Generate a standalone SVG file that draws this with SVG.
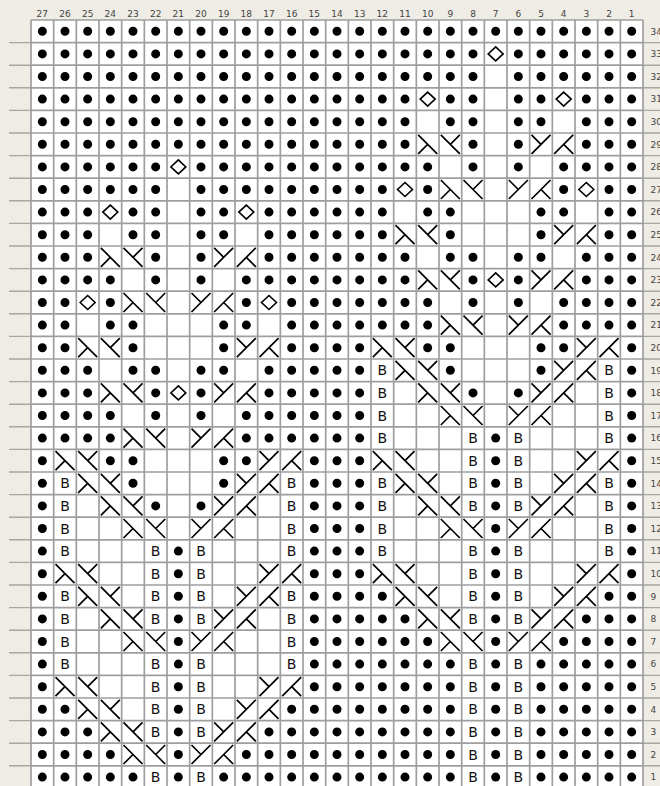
<svg xmlns="http://www.w3.org/2000/svg" width="660" height="786" viewBox="0 0 660 786">
<style>
.hd{fill:#eeece5}
.grid{fill:none;stroke:#9e9e9e;stroke-width:1.7}
.sep{fill:none;stroke:#a6a6a2;stroke-width:1.4}
.lbl{font-family:"DejaVu Sans",Verdana,sans-serif;font-size:9px;fill:#444}
.cl{text-anchor:middle}
.dt{fill:none;stroke:#000;stroke-width:9;stroke-linecap:round;stroke-dasharray:0.01 22.657}
.cb{fill:none;stroke:#000;stroke-width:1.7}
.dm{fill:#fff;stroke:#000;stroke-width:1.6}
.bt{font-family:"DejaVu Sans",sans-serif;font-size:14px;fill:#111;text-anchor:middle}
</style>
<defs>
<path id="a" class="cb" d="M-9.5 -9.5L9.5 9.5M0 0L-9.5 9.5"/>
<path id="b" class="cb" d="M-9.5 -9.5L9.5 9.5M0 0L9.5 -9.5"/>
<path id="c" class="cb" d="M9.5 -9.5L-9.5 9.5M0 0L-9.5 -9.5"/>
<path id="d" class="cb" d="M9.5 -9.5L-9.5 9.5M0 0L9.5 9.5"/>
<path id="o" class="dm" d="M0 -7L7.5 0L0 7L-7.5 0Z"/>
</defs>
<g id="background">
<rect class="hd" x="0" y="0" width="660" height="786"/>
<rect x="31" y="20" width="612" height="766" fill="#fff"/>
<path class="sep" d="M9 42.6H31m-22 22.6H31m-22 22.6H31m-22 22.6H31m-22 22.6H31m-22 22.6H31m-22 22.6H31m-22 22.6H31m-22 22.6H31m-22 22.6H31m-22 22.6H31m-22 22.6H31m-22 22.6H31m-22 22.6H31m-22 22.6H31m-22 22.6H31m-22 22.6H31m-22 22.6H31m-22 22.6H31m-22 22.6H31m-22 22.6H31m-22 22.6H31m-22 22.6H31m-22 22.6H31m-22 22.6H31m-22 22.6H31m-22 22.6H31m-22 22.6H31m-22 22.6H31m-22 22.6H31m-22 22.6H31m-22 22.6H31m-22 22.6H31"/>
<path class="sep" d="M643 42.6H660m-17 22.6H660m-17 22.6H660m-17 22.6H660m-17 22.6H660m-17 22.6H660m-17 22.6H660m-17 22.6H660m-17 22.6H660m-17 22.6H660m-17 22.6H660m-17 22.6H660m-17 22.6H660m-17 22.6H660m-17 22.6H660m-17 22.6H660m-17 22.6H660m-17 22.6H660m-17 22.6H660m-17 22.6H660m-17 22.6H660m-17 22.6H660m-17 22.6H660m-17 22.6H660m-17 22.6H660m-17 22.6H660m-17 22.6H660m-17 22.6H660m-17 22.6H660m-17 22.6H660m-17 22.6H660m-17 22.6H660m-17 22.6H660"/>
</g>
<g id="column-labels" class="lbl cl">
<text x="42.33" y="16.5">27</text><text x="65" y="16.5">26</text><text x="87.67" y="16.5">25</text><text x="110.33" y="16.5">24</text><text x="133" y="16.5">23</text><text x="155.67" y="16.5">22</text><text x="178.33" y="16.5">21</text><text x="201" y="16.5">20</text><text x="223.67" y="16.5">19</text><text x="246.33" y="16.5">18</text><text x="269" y="16.5">17</text><text x="291.67" y="16.5">16</text><text x="314.33" y="16.5">15</text><text x="337" y="16.5">14</text><text x="359.67" y="16.5">13</text><text x="382.33" y="16.5">12</text><text x="405" y="16.5">11</text><text x="427.67" y="16.5">10</text><text x="450.33" y="16.5">9</text><text x="473" y="16.5">8</text><text x="495.67" y="16.5">7</text><text x="518.33" y="16.5">6</text><text x="541" y="16.5">5</text><text x="563.67" y="16.5">4</text><text x="586.33" y="16.5">3</text><text x="609" y="16.5">2</text><text x="631.67" y="16.5">1</text>
</g>
<g id="row-labels" class="lbl">
<text x="650.5" y="34.6">34</text><text x="650.5" y="57.2">33</text><text x="650.5" y="79.8">32</text><text x="650.5" y="102.4">31</text><text x="650.5" y="125">30</text><text x="650.5" y="147.6">29</text><text x="650.5" y="170.2">28</text><text x="650.5" y="192.8">27</text><text x="650.5" y="215.4">26</text><text x="650.5" y="238">25</text><text x="650.5" y="260.6">24</text><text x="650.5" y="283.2">23</text><text x="650.5" y="305.8">22</text><text x="650.5" y="328.4">21</text><text x="650.5" y="351">20</text><text x="650.5" y="373.6">19</text><text x="650.5" y="396.2">18</text><text x="650.5" y="418.8">17</text><text x="650.5" y="441.4">16</text><text x="650.5" y="464">15</text><text x="650.5" y="486.6">14</text><text x="650.5" y="509.2">13</text><text x="650.5" y="531.8">12</text><text x="650.5" y="554.4">11</text><text x="650.5" y="577">10</text><text x="650.5" y="599.6">9</text><text x="650.5" y="622.2">8</text><text x="650.5" y="644.8">7</text><text x="650.5" y="667.4">6</text><text x="650.5" y="690">5</text><text x="650.5" y="712.6">4</text><text x="650.5" y="735.2">3</text><text x="650.5" y="757.8">2</text><text x="650.5" y="780.4">1</text>
</g>
<g id="purl-dots" class="dt">
<path d="M42.33 31.3H632.17"/>
<path d="M42.33 53.9H473.5"/><path d="M518.33 53.9H632.17"/>
<path d="M42.33 76.5H473.5"/><path d="M518.33 76.5H632.17"/>
<path d="M42.33 99.1H405.5"/><path d="M450.33 99.1H473.5"/><path d="M518.33 99.1H541.5"/><path d="M586.33 99.1H632.17"/>
<path d="M42.33 121.7H405.5"/><path d="M450.33 121.7H473.5"/><path d="M518.33 121.7H541.5"/><path d="M586.33 121.7H632.17"/>
<path d="M42.33 144.3H405.5"/><path d="M473 144.3h0.5"/><path d="M518.33 144.3h0.5"/><path d="M586.33 144.3H632.17"/>
<path d="M42.33 166.9H156.17"/><path d="M201 166.9H428.17"/><path d="M473 166.9h0.5"/><path d="M518.33 166.9h0.5"/><path d="M563.67 166.9H632.17"/>
<path d="M42.33 189.5H156.17"/><path d="M201 189.5H382.83"/><path d="M427.67 189.5h0.5"/><path d="M563.67 189.5h0.5"/><path d="M609 189.5H632.17"/>
<path d="M42.33 212.1H88.17"/><path d="M133 212.1H156.17"/><path d="M201 212.1H224.17"/><path d="M269 212.1H382.83"/><path d="M427.67 212.1H450.83"/><path d="M541 212.1H564.17"/><path d="M609 212.1H632.17"/>
<path d="M42.33 234.7H88.17"/><path d="M133 234.7H156.17"/><path d="M201 234.7H224.17"/><path d="M269 234.7H382.83"/><path d="M450.33 234.7h0.5"/><path d="M541 234.7h0.5"/><path d="M609 234.7H632.17"/>
<path d="M42.33 257.3H88.17"/><path d="M155.67 257.3h0.5"/><path d="M201 257.3h0.5"/><path d="M269 257.3H405.5"/><path d="M450.33 257.3H473.5"/><path d="M518.33 257.3H541.5"/><path d="M586.33 257.3H632.17"/>
<path d="M42.33 279.9H110.83"/><path d="M155.67 279.9h0.5"/><path d="M201 279.9h0.5"/><path d="M246.33 279.9H405.5"/><path d="M473 279.9h0.5"/><path d="M518.33 279.9h0.5"/><path d="M586.33 279.9H632.17"/>
<path d="M42.33 302.5H65.5"/><path d="M110.33 302.5h0.5"/><path d="M246.33 302.5h0.5"/><path d="M291.67 302.5H428.17"/><path d="M473 302.5h0.5"/><path d="M518.33 302.5h0.5"/><path d="M563.67 302.5H632.17"/>
<path d="M42.33 325.1H65.5"/><path d="M110.33 325.1H133.5"/><path d="M223.67 325.1H246.83"/><path d="M291.67 325.1H428.17"/><path d="M563.67 325.1H632.17"/>
<path d="M42.33 347.7H65.5"/><path d="M133 347.7h0.5"/><path d="M223.67 347.7h0.5"/><path d="M291.67 347.7H360.17"/><path d="M427.67 347.7H450.83"/><path d="M541 347.7H564.17"/><path d="M631.67 347.7h0.5"/>
<path d="M42.33 370.3H88.17"/><path d="M133 370.3H156.17"/><path d="M201 370.3H224.17"/><path d="M269 370.3H360.17"/><path d="M450.33 370.3h0.5"/><path d="M541 370.3h0.5"/><path d="M631.67 370.3h0.5"/>
<path d="M42.33 392.9H88.17"/><path d="M155.67 392.9h0.5"/><path d="M201 392.9h0.5"/><path d="M269 392.9H360.17"/><path d="M473 392.9h0.5"/><path d="M518.33 392.9h0.5"/><path d="M631.67 392.9h0.5"/>
<path d="M42.33 415.5H110.83"/><path d="M155.67 415.5h0.5"/><path d="M201 415.5h0.5"/><path d="M246.33 415.5H360.17"/><path d="M631.67 415.5h0.5"/>
<path d="M42.33 438.1H110.83"/><path d="M246.33 438.1H360.17"/><path d="M495.67 438.1h0.5"/><path d="M631.67 438.1h0.5"/>
<path d="M42.33 460.7h0.5"/><path d="M110.33 460.7H133.5"/><path d="M223.67 460.7H246.83"/><path d="M314.33 460.7H360.17"/><path d="M495.67 460.7h0.5"/><path d="M631.67 460.7h0.5"/>
<path d="M42.33 483.3h0.5"/><path d="M133 483.3h0.5"/><path d="M223.67 483.3h0.5"/><path d="M314.33 483.3H360.17"/><path d="M495.67 483.3h0.5"/><path d="M631.67 483.3h0.5"/>
<path d="M42.33 505.9h0.5"/><path d="M155.67 505.9h0.5"/><path d="M201 505.9h0.5"/><path d="M314.33 505.9H360.17"/><path d="M495.67 505.9h0.5"/><path d="M631.67 505.9h0.5"/>
<path d="M42.33 528.5h0.5"/><path d="M314.33 528.5H360.17"/><path d="M495.67 528.5h0.5"/><path d="M631.67 528.5h0.5"/>
<path d="M42.33 551.1h0.5"/><path d="M178.33 551.1h0.5"/><path d="M314.33 551.1H360.17"/><path d="M495.67 551.1h0.5"/><path d="M631.67 551.1h0.5"/>
<path d="M42.33 573.7h0.5"/><path d="M178.33 573.7h0.5"/><path d="M314.33 573.7H360.17"/><path d="M495.67 573.7h0.5"/><path d="M631.67 573.7h0.5"/>
<path d="M42.33 596.3h0.5"/><path d="M178.33 596.3h0.5"/><path d="M314.33 596.3H382.83"/><path d="M495.67 596.3h0.5"/><path d="M609 596.3H632.17"/>
<path d="M42.33 618.9h0.5"/><path d="M178.33 618.9h0.5"/><path d="M314.33 618.9H405.5"/><path d="M495.67 618.9h0.5"/><path d="M586.33 618.9H632.17"/>
<path d="M42.33 641.5h0.5"/><path d="M178.33 641.5h0.5"/><path d="M314.33 641.5H428.17"/><path d="M495.67 641.5h0.5"/><path d="M563.67 641.5H632.17"/>
<path d="M42.33 664.1h0.5"/><path d="M178.33 664.1h0.5"/><path d="M314.33 664.1H450.83"/><path d="M495.67 664.1h0.5"/><path d="M541 664.1H632.17"/>
<path d="M42.33 686.7h0.5"/><path d="M178.33 686.7h0.5"/><path d="M314.33 686.7H450.83"/><path d="M495.67 686.7h0.5"/><path d="M541 686.7H632.17"/>
<path d="M42.33 709.3H65.5"/><path d="M178.33 709.3h0.5"/><path d="M291.67 709.3H450.83"/><path d="M495.67 709.3h0.5"/><path d="M541 709.3H632.17"/>
<path d="M42.33 731.9H88.17"/><path d="M178.33 731.9h0.5"/><path d="M269 731.9H450.83"/><path d="M495.67 731.9h0.5"/><path d="M541 731.9H632.17"/>
<path d="M42.33 754.5H110.83"/><path d="M178.33 754.5h0.5"/><path d="M246.33 754.5H450.83"/><path d="M495.67 754.5h0.5"/><path d="M541 754.5H632.17"/>
<path d="M42.33 777.1H133.5"/><path d="M178.33 777.1h0.5"/><path d="M223.67 777.1H450.83"/><path d="M495.67 777.1h0.5"/><path d="M541 777.1H632.17"/>
</g>
<g id="bobbles">
<use href="#o" x="495.67" y="53.9"/>
<use href="#o" x="427.67" y="99.1"/><use href="#o" x="563.67" y="99.1"/>
<use href="#o" x="178.33" y="166.9"/>
<use href="#o" x="405" y="189.5"/><use href="#o" x="586.33" y="189.5"/>
<use href="#o" x="110.33" y="212.1"/><use href="#o" x="246.33" y="212.1"/>
<use href="#o" x="495.67" y="279.9"/>
<use href="#o" x="87.67" y="302.5"/><use href="#o" x="269" y="302.5"/>
<use href="#o" x="178.33" y="392.9"/>
</g>
<g id="cables">
<use href="#a" x="427.67" y="144.3"/><use href="#b" x="450.33" y="144.3"/><use href="#c" x="541" y="144.3"/><use href="#d" x="563.67" y="144.3"/>
<use href="#a" x="450.33" y="189.5"/><use href="#b" x="473" y="189.5"/><use href="#c" x="518.33" y="189.5"/><use href="#d" x="541" y="189.5"/>
<use href="#a" x="405" y="234.7"/><use href="#b" x="427.67" y="234.7"/><use href="#c" x="563.67" y="234.7"/><use href="#d" x="586.33" y="234.7"/>
<use href="#a" x="110.33" y="257.3"/><use href="#b" x="133" y="257.3"/><use href="#c" x="223.67" y="257.3"/><use href="#d" x="246.33" y="257.3"/>
<use href="#a" x="427.67" y="279.9"/><use href="#b" x="450.33" y="279.9"/><use href="#c" x="541" y="279.9"/><use href="#d" x="563.67" y="279.9"/>
<use href="#a" x="133" y="302.5"/><use href="#b" x="155.67" y="302.5"/><use href="#c" x="201" y="302.5"/><use href="#d" x="223.67" y="302.5"/>
<use href="#a" x="450.33" y="325.1"/><use href="#b" x="473" y="325.1"/><use href="#c" x="518.33" y="325.1"/><use href="#d" x="541" y="325.1"/>
<use href="#a" x="87.67" y="347.7"/><use href="#b" x="110.33" y="347.7"/><use href="#c" x="246.33" y="347.7"/><use href="#d" x="269" y="347.7"/><use href="#a" x="382.33" y="347.7"/><use href="#b" x="405" y="347.7"/><use href="#c" x="586.33" y="347.7"/><use href="#d" x="609" y="347.7"/>
<use href="#a" x="405" y="370.3"/><use href="#b" x="427.67" y="370.3"/><use href="#c" x="563.67" y="370.3"/><use href="#d" x="586.33" y="370.3"/>
<use href="#a" x="110.33" y="392.9"/><use href="#b" x="133" y="392.9"/><use href="#c" x="223.67" y="392.9"/><use href="#d" x="246.33" y="392.9"/><use href="#a" x="427.67" y="392.9"/><use href="#b" x="450.33" y="392.9"/><use href="#c" x="541" y="392.9"/><use href="#d" x="563.67" y="392.9"/>
<use href="#a" x="450.33" y="415.5"/><use href="#b" x="473" y="415.5"/><use href="#c" x="518.33" y="415.5"/><use href="#d" x="541" y="415.5"/>
<use href="#a" x="133" y="438.1"/><use href="#b" x="155.67" y="438.1"/><use href="#c" x="201" y="438.1"/><use href="#d" x="223.67" y="438.1"/>
<use href="#a" x="65" y="460.7"/><use href="#b" x="87.67" y="460.7"/><use href="#c" x="269" y="460.7"/><use href="#d" x="291.67" y="460.7"/><use href="#a" x="382.33" y="460.7"/><use href="#b" x="405" y="460.7"/><use href="#c" x="586.33" y="460.7"/><use href="#d" x="609" y="460.7"/>
<use href="#a" x="87.67" y="483.3"/><use href="#b" x="110.33" y="483.3"/><use href="#c" x="246.33" y="483.3"/><use href="#d" x="269" y="483.3"/><use href="#a" x="405" y="483.3"/><use href="#b" x="427.67" y="483.3"/><use href="#c" x="563.67" y="483.3"/><use href="#d" x="586.33" y="483.3"/>
<use href="#a" x="110.33" y="505.9"/><use href="#b" x="133" y="505.9"/><use href="#c" x="223.67" y="505.9"/><use href="#d" x="246.33" y="505.9"/><use href="#a" x="427.67" y="505.9"/><use href="#b" x="450.33" y="505.9"/><use href="#c" x="541" y="505.9"/><use href="#d" x="563.67" y="505.9"/>
<use href="#a" x="133" y="528.5"/><use href="#b" x="155.67" y="528.5"/><use href="#c" x="201" y="528.5"/><use href="#d" x="223.67" y="528.5"/><use href="#a" x="450.33" y="528.5"/><use href="#b" x="473" y="528.5"/><use href="#c" x="518.33" y="528.5"/><use href="#d" x="541" y="528.5"/>
<use href="#a" x="65" y="573.7"/><use href="#b" x="87.67" y="573.7"/><use href="#c" x="269" y="573.7"/><use href="#d" x="291.67" y="573.7"/><use href="#a" x="382.33" y="573.7"/><use href="#b" x="405" y="573.7"/><use href="#c" x="586.33" y="573.7"/><use href="#d" x="609" y="573.7"/>
<use href="#a" x="87.67" y="596.3"/><use href="#b" x="110.33" y="596.3"/><use href="#c" x="246.33" y="596.3"/><use href="#d" x="269" y="596.3"/><use href="#a" x="405" y="596.3"/><use href="#b" x="427.67" y="596.3"/><use href="#c" x="563.67" y="596.3"/><use href="#d" x="586.33" y="596.3"/>
<use href="#a" x="110.33" y="618.9"/><use href="#b" x="133" y="618.9"/><use href="#c" x="223.67" y="618.9"/><use href="#d" x="246.33" y="618.9"/><use href="#a" x="427.67" y="618.9"/><use href="#b" x="450.33" y="618.9"/><use href="#c" x="541" y="618.9"/><use href="#d" x="563.67" y="618.9"/>
<use href="#a" x="133" y="641.5"/><use href="#b" x="155.67" y="641.5"/><use href="#c" x="201" y="641.5"/><use href="#d" x="223.67" y="641.5"/><use href="#a" x="450.33" y="641.5"/><use href="#b" x="473" y="641.5"/><use href="#c" x="518.33" y="641.5"/><use href="#d" x="541" y="641.5"/>
<use href="#a" x="65" y="686.7"/><use href="#b" x="87.67" y="686.7"/><use href="#c" x="269" y="686.7"/><use href="#d" x="291.67" y="686.7"/>
<use href="#a" x="87.67" y="709.3"/><use href="#b" x="110.33" y="709.3"/><use href="#c" x="246.33" y="709.3"/><use href="#d" x="269" y="709.3"/>
<use href="#a" x="110.33" y="731.9"/><use href="#b" x="133" y="731.9"/><use href="#c" x="223.67" y="731.9"/><use href="#d" x="246.33" y="731.9"/>
<use href="#a" x="133" y="754.5"/><use href="#b" x="155.67" y="754.5"/><use href="#c" x="201" y="754.5"/><use href="#d" x="223.67" y="754.5"/>
</g>
<g id="twisted-stitches" class="bt">
<text x="382.33" y="375.4">B</text><text x="609" y="375.4">B</text>
<text x="382.33" y="398">B</text><text x="609" y="398">B</text>
<text x="382.33" y="420.6">B</text><text x="609" y="420.6">B</text>
<text x="382.33" y="443.2">B</text><text x="473" y="443.2">B</text><text x="518.33" y="443.2">B</text><text x="609" y="443.2">B</text>
<text x="473" y="465.8">B</text><text x="518.33" y="465.8">B</text>
<text x="65" y="488.4">B</text><text x="291.67" y="488.4">B</text><text x="382.33" y="488.4">B</text><text x="473" y="488.4">B</text><text x="518.33" y="488.4">B</text><text x="609" y="488.4">B</text>
<text x="65" y="511">B</text><text x="291.67" y="511">B</text><text x="382.33" y="511">B</text><text x="473" y="511">B</text><text x="518.33" y="511">B</text><text x="609" y="511">B</text>
<text x="65" y="533.6">B</text><text x="291.67" y="533.6">B</text><text x="382.33" y="533.6">B</text><text x="609" y="533.6">B</text>
<text x="65" y="556.2">B</text><text x="155.67" y="556.2">B</text><text x="201" y="556.2">B</text><text x="291.67" y="556.2">B</text><text x="382.33" y="556.2">B</text><text x="473" y="556.2">B</text><text x="518.33" y="556.2">B</text><text x="609" y="556.2">B</text>
<text x="155.67" y="578.8">B</text><text x="201" y="578.8">B</text><text x="473" y="578.8">B</text><text x="518.33" y="578.8">B</text>
<text x="65" y="601.4">B</text><text x="155.67" y="601.4">B</text><text x="201" y="601.4">B</text><text x="291.67" y="601.4">B</text><text x="473" y="601.4">B</text><text x="518.33" y="601.4">B</text>
<text x="65" y="624">B</text><text x="155.67" y="624">B</text><text x="201" y="624">B</text><text x="291.67" y="624">B</text><text x="473" y="624">B</text><text x="518.33" y="624">B</text>
<text x="65" y="646.6">B</text><text x="291.67" y="646.6">B</text>
<text x="65" y="669.2">B</text><text x="155.67" y="669.2">B</text><text x="201" y="669.2">B</text><text x="291.67" y="669.2">B</text><text x="473" y="669.2">B</text><text x="518.33" y="669.2">B</text>
<text x="155.67" y="691.8">B</text><text x="201" y="691.8">B</text><text x="473" y="691.8">B</text><text x="518.33" y="691.8">B</text>
<text x="155.67" y="714.4">B</text><text x="201" y="714.4">B</text><text x="473" y="714.4">B</text><text x="518.33" y="714.4">B</text>
<text x="155.67" y="737">B</text><text x="201" y="737">B</text><text x="473" y="737">B</text><text x="518.33" y="737">B</text>
<text x="473" y="759.6">B</text><text x="518.33" y="759.6">B</text>
<text x="155.67" y="782.2">B</text><text x="201" y="782.2">B</text><text x="473" y="782.2">B</text><text x="518.33" y="782.2">B</text>
</g>
<g id="grid-lines">
<path class="grid" d="M31 20V786m22.667-766V786m22.667-766V786m22.667-766V786m22.667-766V786m22.667-766V786m22.667-766V786m22.667-766V786m22.667-766V786m22.667-766V786m22.667-766V786m22.667-766V786m22.667-766V786m22.667-766V786m22.667-766V786m22.667-766V786m22.667-766V786m22.667-766V786m22.667-766V786m22.667-766V786m22.667-766V786m22.667-766V786m22.667-766V786m22.667-766V786m22.667-766V786m22.667-766V786m22.667-766V786m22.667-766V786"/>
<path class="grid" d="M31 20H643m-612 22.6H643m-612 22.6H643m-612 22.6H643m-612 22.6H643m-612 22.6H643m-612 22.6H643m-612 22.6H643m-612 22.6H643m-612 22.6H643m-612 22.6H643m-612 22.6H643m-612 22.6H643m-612 22.6H643m-612 22.6H643m-612 22.6H643m-612 22.6H643m-612 22.6H643m-612 22.6H643m-612 22.6H643m-612 22.6H643m-612 22.6H643m-612 22.6H643m-612 22.6H643m-612 22.6H643m-612 22.6H643m-612 22.6H643m-612 22.6H643m-612 22.6H643m-612 22.6H643m-612 22.6H643m-612 22.6H643m-612 22.6H643m-612 22.6H643"/>
</g>
</svg>
